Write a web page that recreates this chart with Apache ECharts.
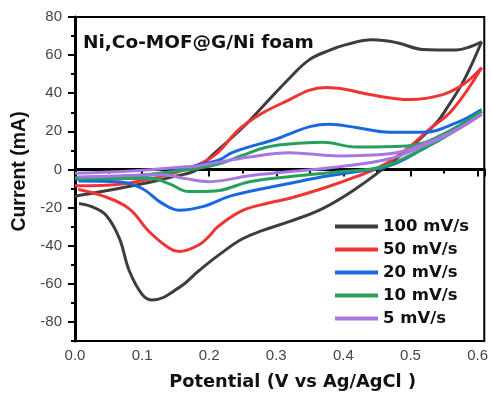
<!DOCTYPE html>
<html>
<head>
<meta charset="utf-8">
<script src="https://cdn.jsdelivr.net/npm/echarts@6/dist/echarts.min.js"></script>
<style>
  html, body { margin: 0; padding: 0; background: #fff; }
  #cv { width: 491px; height: 396px; }
</style>
</head>
<body>
<div id="cv"></div>
<script>
// scan rates (legend names)
var rates = ['100 mV/s', '50 mV/s', '20 mV/s', '10 mV/s', '5 mV/s'];
var colors = ['#3d3d3d', '#f03434', '#1a68e0', '#27a05c', '#a778e2'];

// anodic sweep (0 -> 0.6 V), [potential, current]
var up100 = [[0, -14], [0.04, -11.6], [0.115, -6.4], [0.15, -3.5], [0.18, -0.5], [0.2, 6], [0.25, 22], [0.285, 35], [0.32, 48], [0.349, 57.5], [0.379, 62.5], [0.404, 65.5], [0.443, 68], [0.48, 66.5], [0.518, 63], [0.568, 62.7], [0.59, 64.5], [0.606, 67]];
var up50 = [[0, -8.5], [0.04, -8.4], [0.115, -4.8], [0.18, 2], [0.21, 8], [0.25, 22.7], [0.31, 35], [0.374, 43], [0.404, 42], [0.439, 39.3], [0.499, 36.7], [0.548, 39.3], [0.58, 45], [0.606, 53.4]];
var up20 = [[0, -5], [0.09, -3.8], [0.165, 0.4], [0.185, 2.5], [0.215, 5], [0.235, 9], [0.3, 16], [0.319, 18.5], [0.35, 22.5], [0.379, 23.7], [0.419, 22], [0.469, 19.5], [0.518, 19.5], [0.569, 24.6], [0.606, 31.5]];
var up10 = [[0, -4.3], [0.09, -3.2], [0.18, 0.4], [0.215, 3], [0.25, 7.5], [0.285, 11.7], [0.319, 13.4], [0.369, 14.3], [0.419, 11.8], [0.494, 12.3], [0.543, 17.5], [0.606, 30.5]];
var up5 = [[0, -2], [0.09, -0.7], [0.165, 1.4], [0.185, 2], [0.26, 6.5], [0.319, 8.8], [0.394, 7.1], [0.469, 8.2], [0.528, 14.4], [0.569, 21], [0.606, 29]];

// cathodic sweep (0.6 -> 0 V)
var down100 = [[0.606, 67], [0.58, 47], [0.553, 31.5], [0.539, 24.6], [0.509, 14.3], [0.469, 3], [0.419, -10], [0.369, -20.5], [0.319, -27.4], [0.28, -32], [0.249, -36.5], [0.215, -44.7], [0.185, -53], [0.155, -62], [0.115, -68.5], [0.1, -65.5], [0.081, -53.3], [0.066, -36], [0.046, -23.9], [0.025, -19.5], [0.006, -17.8]];
var down50 = [[0.606, 53.4], [0.563, 31.5], [0.528, 21], [0.494, 10.7], [0.458, 2], [0.419, -3.8], [0.369, -10], [0.319, -15.2], [0.29, -17.5], [0.25, -21.5], [0.213, -30], [0.2, -35], [0.185, -39.5], [0.155, -43], [0.14, -41.2], [0.11, -32.4], [0.08, -20.4], [0.04, -13.7], [0.005, -10.5]];
var down20 = [[0.606, 30.5], [0.569, 21], [0.518, 10.7], [0.469, 2], [0.419, -1.2], [0.369, -3.8], [0.319, -7.4], [0.235, -13.6], [0.19, -19.5], [0.155, -21.4], [0.13, -17.8], [0.1, -10], [0.066, -6.5], [0.005, -6]];
var down10 = [[0.606, 30.5], [0.565, 20], [0.518, 10.7], [0.458, 1.4], [0.394, -1.2], [0.319, -3.8], [0.26, -6.4], [0.215, -11], [0.185, -11.6], [0.17, -11.6], [0.14, -7.4], [0.115, -4.8], [0.04, -4.8], [0.005, -5]];
var down5 = [[0.606, 29], [0.565, 20], [0.518, 12.3], [0.469, 5.6], [0.394, 1.4], [0.319, -1.2], [0.26, -3.3], [0.2, -6.4], [0.165, -4.8], [0.13, -2.8], [0.05, -3.5], [0.005, -4]];

var yMajor = [-80, -60, -40, -20, 0, 20, 40, 60, 80];

var ups = [up100, up50, up20, up10, up5];
var downs = [down100, down50, down20, down10, down5];

var series = [];
rates.forEach(function (r, i) {
  [ups[i], downs[i]].forEach(function (d) {
    series.push({
      name: r,
      type: 'line',
      data: d,
      smooth: 0.4,
      showSymbol: false,
      lineStyle: { width: 3, color: colors[i] },
      itemStyle: { color: colors[i] },
      z: 2 + i
    });
  });
});

var myChart = echarts.init(document.getElementById('cv'));
var option = {
  animation: false,
  color: colors,
  title: {
    text: 'Ni,Co-MOF@G/Ni foam',
    left: 83, top: 34, padding: 0,
    textStyle: { fontFamily: 'DejaVu Sans', fontWeight: 'bold', fontSize: 18.5, color: '#111' }
  },
  grid: { left: 75, top: 17, right: 6, bottom: 52, show: true, borderColor: '#000', borderWidth: 2 },
  legend: {
    data: rates,
    orient: 'vertical',
    left: 335, top: 218, padding: 0,
    icon: 'rect', itemWidth: 43, itemHeight: 4, itemGap: 6,
    textStyle: { fontFamily: 'DejaVu Sans', fontWeight: 'bold', fontSize: 16.5, lineHeight: 17, color: '#111' }
  },
  xAxis: {
    type: 'value', min: 0, max: 0.61, interval: 0.1,
    name: 'Potential (V vs Ag/AgCl )', nameLocation: 'middle', nameGap: 32,
    nameTextStyle: { fontFamily: 'DejaVu Sans', fontWeight: 'bold', fontSize: 17.8, color: '#111', padding: [0, 0, 0, 26] },
    axisLine: { lineStyle: { color: '#000', width: 3 } },
    axisTick: { length: 7, lineStyle: { color: '#000', width: 2 } },
    minorTick: { show: true, splitNumber: 2, length: 4, lineStyle: { color: '#000', width: 2 } },
    axisLabel: { margin: 7, fontFamily: 'Liberation Sans', fontSize: 15, color: '#444', showMaxLabel: false,
      formatter: function (v) { return v.toFixed(1); } },
    splitLine: { show: false }
  },
  yAxis: [{
    type: 'value', min: -90, max: 80, interval: 10,
    name: 'Current (mA)', nameLocation: 'middle', nameGap: 45,
    nameTextStyle: { fontFamily: 'Liberation Sans', fontWeight: 'bold', fontSize: 19.5, color: '#111', padding: [0, 0, 0, 15] },
    axisLine: { lineStyle: { color: '#000', width: 3 } },
    axisTick: { length: 4, lineStyle: { color: '#000', width: 2 } },
    axisLabel: { margin: 13, fontFamily: 'Liberation Sans', fontSize: 15, color: '#444', customValues: yMajor },
    splitLine: { show: false }
  }, {
    type: 'value', min: -90, max: 80, interval: 10, position: 'left',
    axisLine: { show: false },
    axisTick: { show: true, length: 7, customValues: yMajor, lineStyle: { color: '#000', width: 2 } },
    axisLabel: { show: false },
    splitLine: { show: false }
  }],
  series: series
};
myChart.setOption(option);
</script>
</body>
</html>
